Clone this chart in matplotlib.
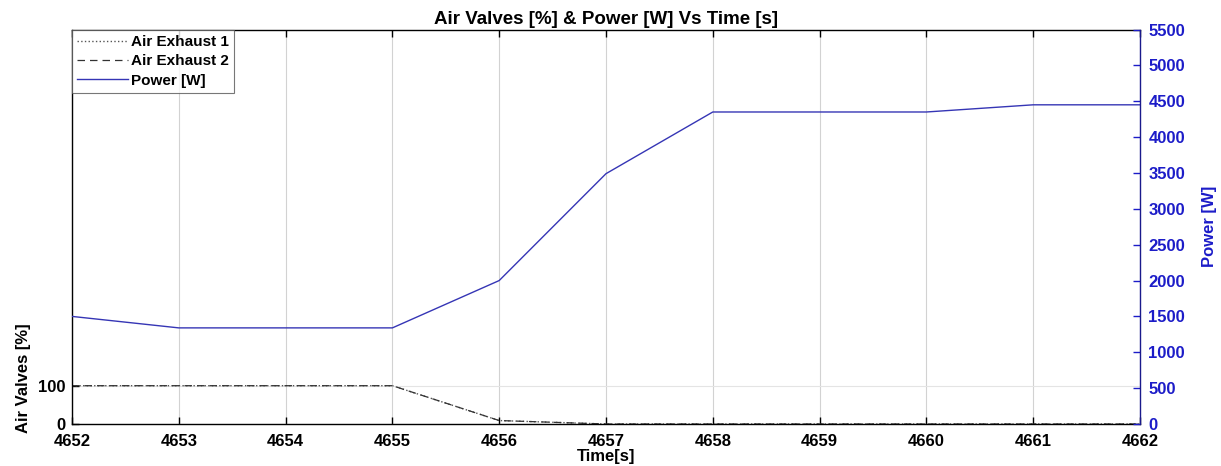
import numpy as np
import matplotlib
matplotlib.use('Agg')
import matplotlib.pyplot as plt

plt.rcParams['font.family'] = ['Liberation Sans', 'DejaVu Sans']

# DATA
time_s = [4652, 4653, 4654, 4655, 4656, 4657, 4658, 4659, 4660, 4661, 4662]
air_exhaust_1 = [100, 100, 100, 100, 9, 0, 0, 0, 0, 0, 0]
air_exhaust_2 = [100, 100, 100, 100, 9, 0, 0, 0, 0, 0, 0]
power_w = [1500, 1340, 1340, 1340, 2000, 3490, 4350, 4350, 4350, 4450, 4450]

valve_ticks = [0, 100]
power_ticks = list(range(0, 5501, 500))

BLUE_TXT = '#1c1cc8'
BLUE_LINE = '#3535b5'

#FIG
fig = plt.figure(figsize=(12.21, 4.66), dpi=100)
ax = fig.add_axes([72 / 1221, 1 - 424 / 466, (1140 - 72) / 1221, (424 - 29.5) / 466])
ax2 = ax.twinx()

#LEFT AXIS: air valves
l1, = ax.plot(time_s, air_exhaust_1, ':', color='#555555', lw=1.0, label='Air Exhaust 1')
l2, = ax.plot(time_s, air_exhaust_2, '--', color='#333333', lw=0.9, dashes=(6, 4), label='Air Exhaust 2')
ax.set_xlim(4652, 4662)
ax.set_ylim(0, 1030)
ax.set_yticks(valve_ticks)
ax.set_xticks(time_s)
ax.grid(True, axis='x', color='#d2d2d2', lw=0.8)
ax.grid(True, axis='y', color='#e4e4e4', lw=0.8)
ax.tick_params(axis='x', direction='in', length=5, width=1, top=True, pad=7, labelsize=12)
ax.tick_params(axis='y', direction='in', length=5, width=1, pad=5, labelsize=12)
for lab in ax.get_xticklabels() + ax.get_yticklabels():
    lab.set_fontweight('bold')
for s in ['left', 'bottom', 'top']:
    ax.spines[s].set_linewidth(1.0)
    ax.spines[s].set_color('black')
ax.spines['right'].set_visible(False)

ax.set_xlabel('Time[s]', fontsize=12, fontweight='bold', labelpad=0)
ax.set_ylabel('Air Valves [%]', fontsize=12, fontweight='semibold')
ax.yaxis.set_label_coords(-0.038, 0.115)

#RIGHT AXIS: power
l3, = ax2.plot(time_s, power_w, '-', color=BLUE_LINE, lw=1.0, label='Power [W]')
ax2.set_ylim(0, 5500)
ax2.set_yticks(power_ticks)
ax2.tick_params(axis='y', direction='in', length=5, width=1, colors=BLUE_TXT, pad=6, labelsize=12)
for lab in ax2.get_yticklabels():
    lab.set_fontweight('bold')
ax2.spines['right'].set_color('#1a1a8c')
ax2.spines['right'].set_linewidth(1.0)
for s in ['left', 'bottom', 'top']:
    ax2.spines[s].set_visible(False)
ax2.set_ylabel('Power [W]', fontsize=12, fontweight='semibold', color=BLUE_TXT, labelpad=12)

ax.set_title('Air Valves [%] & Power [W] Vs Time [s]', fontsize=13.5, fontweight='bold', pad=4)

#LEGEND
leg = ax2.legend(handles=[l1, l2, l3], loc='upper left',
                 prop={'weight': 'bold', 'size': 11},
                 frameon=True, fancybox=False, borderaxespad=0,
                 handlelength=3.3, handletextpad=0.2, labelspacing=0.35,
                 borderpad=0.35)
leg.get_frame().set_edgecolor('#555555')
leg.get_frame().set_linewidth(0.8)

plt.savefig('out.png', dpi=100)
